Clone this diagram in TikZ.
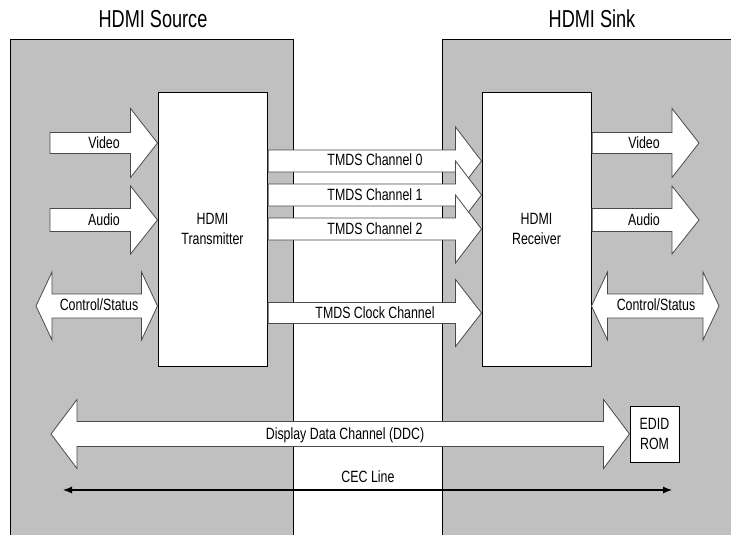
\documentclass[tikz,border=0pt]{standalone}
\usepackage{fontspec}
\setmainfont{Liberation Sans}[FakeStretch=0.76]
\newfontfamily\titlefont{Liberation Sans}[FakeStretch=0.74]
\usetikzlibrary{calc,arrows.meta}
\definecolor{panelgray}{HTML}{C0C0C0}
\definecolor{arrowline}{HTML}{4A4A4A}
\tikzset{
  panel/.style={fill=panelgray},
  panelborder/.style={draw=black,line width=1pt},
  chipbox/.style={draw=black,fill=white,line width=1pt,inner sep=0pt,align=center,
     font=\fontsize{16.3}{20.5}\selectfont},
  blk/.style={draw=arrowline,fill=white,line width=0.8pt,line join=miter},
  lbl/.style={inner sep=0pt,font=\fontsize{16.3}{19}\selectfont},
  ttl/.style={inner sep=0pt,font=\titlefont\fontsize{24.5}{28}\selectfont},
  cec/.style={draw=black,line width=1.1pt,{Latex[length=9pt,width=7pt]}-{Latex[length=9pt,width=7pt]}}
}
% #1 start, #2 tip, #3 shaft half, #4 head half, #5 head length
\newcommand\RArrow[5]{%
  \path[blk] let \p1=(#1), \p2=(#2) in
    (\x1,\y2+#3) -- (\x2-#5,\y2+#3) -- (\x2-#5,\y2+#4) -- (\x2,\y2)
    -- (\x2-#5,\y2-#4) -- (\x2-#5,\y2-#3) -- (\x1,\y2-#3) -- cycle;}
% #1 left tip, #2 right tip, #3 shaft half, #4 head half, #5 head length
\newcommand\DArrow[5]{%
  \path[blk] let \p1=(#1), \p2=(#2) in
    (\x1,\y1) -- (\x1+#5,\y1+#4) -- (\x1+#5,\y1+#3) -- (\x2-#5,\y1+#3)
    -- (\x2-#5,\y1+#4) -- (\x2,\y1) -- (\x2-#5,\y1-#4) -- (\x2-#5,\y1-#3)
    -- (\x1+#5,\y1-#3) -- (\x1+#5,\y1-#4) -- cycle;}
\begin{document}
\begin{tikzpicture}[x=1pt,y=-1pt]
\useasboundingbox (0,0) rectangle (731,535);
% panels
\fill[panel] (10,40) rectangle (293,535);
\fill[panel] (442,40) rectangle (731,535);
\draw[panelborder] (10,535) -- (10,40) -- (293,40) -- (293,535);
\draw[panelborder] (442,535) -- (442,40) -- (731,40);
% titles
\node[ttl] (srctitle) at (153,19) {HDMI Source};
\node[ttl] (snktitle) at (592,19) {HDMI Sink};
% chips
\node[chipbox,minimum width=109pt,minimum height=274pt] (tx) at (212.5,229) {HDMI\\Transmitter};
\node[chipbox,minimum width=109pt,minimum height=274pt] (rx) at (536.5,229) {HDMI\\Receiver};
\node[chipbox,minimum width=49pt,minimum height=56pt] (edid) at (654.5,434) {EDID\\ROM};
% free ends
\coordinate (vin) at (50,143);
\coordinate (ain) at (50,220);
\coordinate (csin) at (36,306);
\coordinate (vout) at (699,143);
\coordinate (aout) at (699,220);
\coordinate (csout) at (719,306);
\coordinate (ddcl) at (51,434);
\coordinate (cecl) at (63,490);
\coordinate (cecr) at (672,490);
\coordinate (t0) at (0,161);
\coordinate (t1) at (0,195);
\coordinate (t2) at (0,229);
\coordinate (tc) at (0,313);
% source side arrows
\RArrow{vin}{tx.west |- vin}{10.5pt}{34.5pt}{27pt}
\RArrow{ain}{tx.west |- ain}{11.5pt}{34pt}{27pt}
\DArrow{csin}{tx.west |- csin}{12pt}{34pt}{16pt}
% TMDS
\RArrow{[xshift=0.6pt]tx.east |- t0}{rx.west |- t0}{11pt}{34pt}{26pt}
\RArrow{[xshift=0.6pt]tx.east |- t1}{rx.west |- t1}{11pt}{34pt}{26pt}
\RArrow{[xshift=0.6pt]tx.east |- t2}{rx.west |- t2}{11pt}{34pt}{26pt}
\RArrow{[xshift=0.6pt]tx.east |- tc}{rx.west |- tc}{10.5pt}{33.5pt}{26pt}
% sink side arrows
\RArrow{[xshift=0.6pt]rx.east |- vout}{vout}{10.5pt}{34.5pt}{27pt}
\RArrow{[xshift=0.6pt]rx.east |- aout}{aout}{11.5pt}{34pt}{27pt}
\DArrow{rx.east |- csout}{csout}{12pt}{34pt}{16pt}
% DDC
\DArrow{ddcl}{edid.west}{12.5pt}{34.5pt}{26pt}
% CEC
\draw[cec] (cecl) -- (cecr);
% labels
\node[lbl] (lvin) at (104,143) {Video};
\node[lbl] (lain) at (104,220) {Audio};
\node[lbl] (lcsin) at (99,305) {Control/Status};
\node[lbl] (lt0) at (375,160) {TMDS Channel 0};
\node[lbl] (lt1) at (375,195) {TMDS Channel 1};
\node[lbl] (lt2) at (375,229) {TMDS Channel 2};
\node[lbl] (ltc) at (375,313) {TMDS Clock Channel};
\node[lbl] (lvout) at (644,143) {Video};
\node[lbl] (laout) at (644,220) {Audio};
\node[lbl] (lcsout) at (656,305) {Control/Status};
\node[lbl] (lddc) at (345,435) {Display Data Channel (DDC)};
\node[lbl] (lcec) at (368,477) {CEC Line};
\end{tikzpicture}
\end{document}
